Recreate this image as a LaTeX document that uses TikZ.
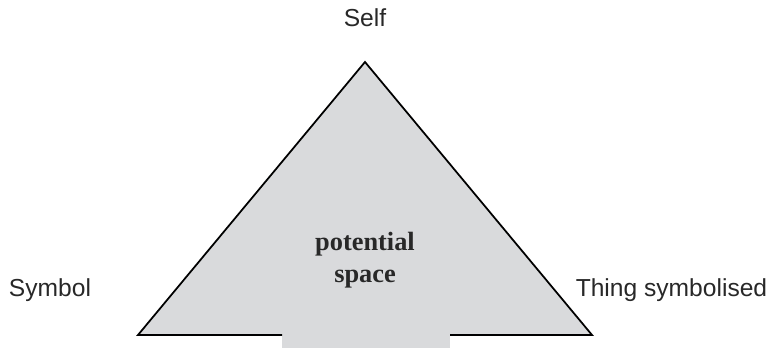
\documentclass[tikz,border=0pt]{standalone}
\usepackage{fontspec}
\setmainfont{Liberation Sans}
\newfontfamily\serifbold{Liberation Serif}
\usepackage{xcolor}
\definecolor{colorSpace}{RGB}{217,218,220}
\definecolor{colorLabel}{RGB}{40,40,40}
\usetikzlibrary{positioning}
\tikzset{corner/.style={font=\fontsize{14}{16}\selectfont, text=colorLabel, inner sep=0pt},
         space/.style={font=\serifbold\bfseries\fontsize{15}{18}\selectfont, text=colorLabel, align=center, inner sep=0pt}}

\begin{document}
\begin{tikzpicture}[line width=1pt]
\useasboundingbox (0,0) rectangle (15.4,6.96);
\coordinate (apex) at (7.30,5.72);
\coordinate (symbol) at (2.76,0.26);
\coordinate (thing) at (11.84,0.26);
\coordinate (gapL) at (5.64,0.26);
\coordinate (gapR) at (9.00,0.26);
% triangle and the opening at its base
\fill[colorSpace] (symbol) -- (apex) -- (thing) -- cycle;
\fill[colorSpace] (5.64,0) rectangle (gapR);
\draw[line join=miter] (gapL) -- (symbol) -- (apex) -- (thing) -- (gapR);
\node[corner] (self) at (7.30,6.61) {Self};
\node[corner] (sym) at (1.00,1.15) {Symbol};
\node[corner] (ths) at (13.43,1.15) {Thing symbolised};
\node[space] (pot) at (7.30,1.76) {potential\\space};
\end{tikzpicture}
\end{document}
